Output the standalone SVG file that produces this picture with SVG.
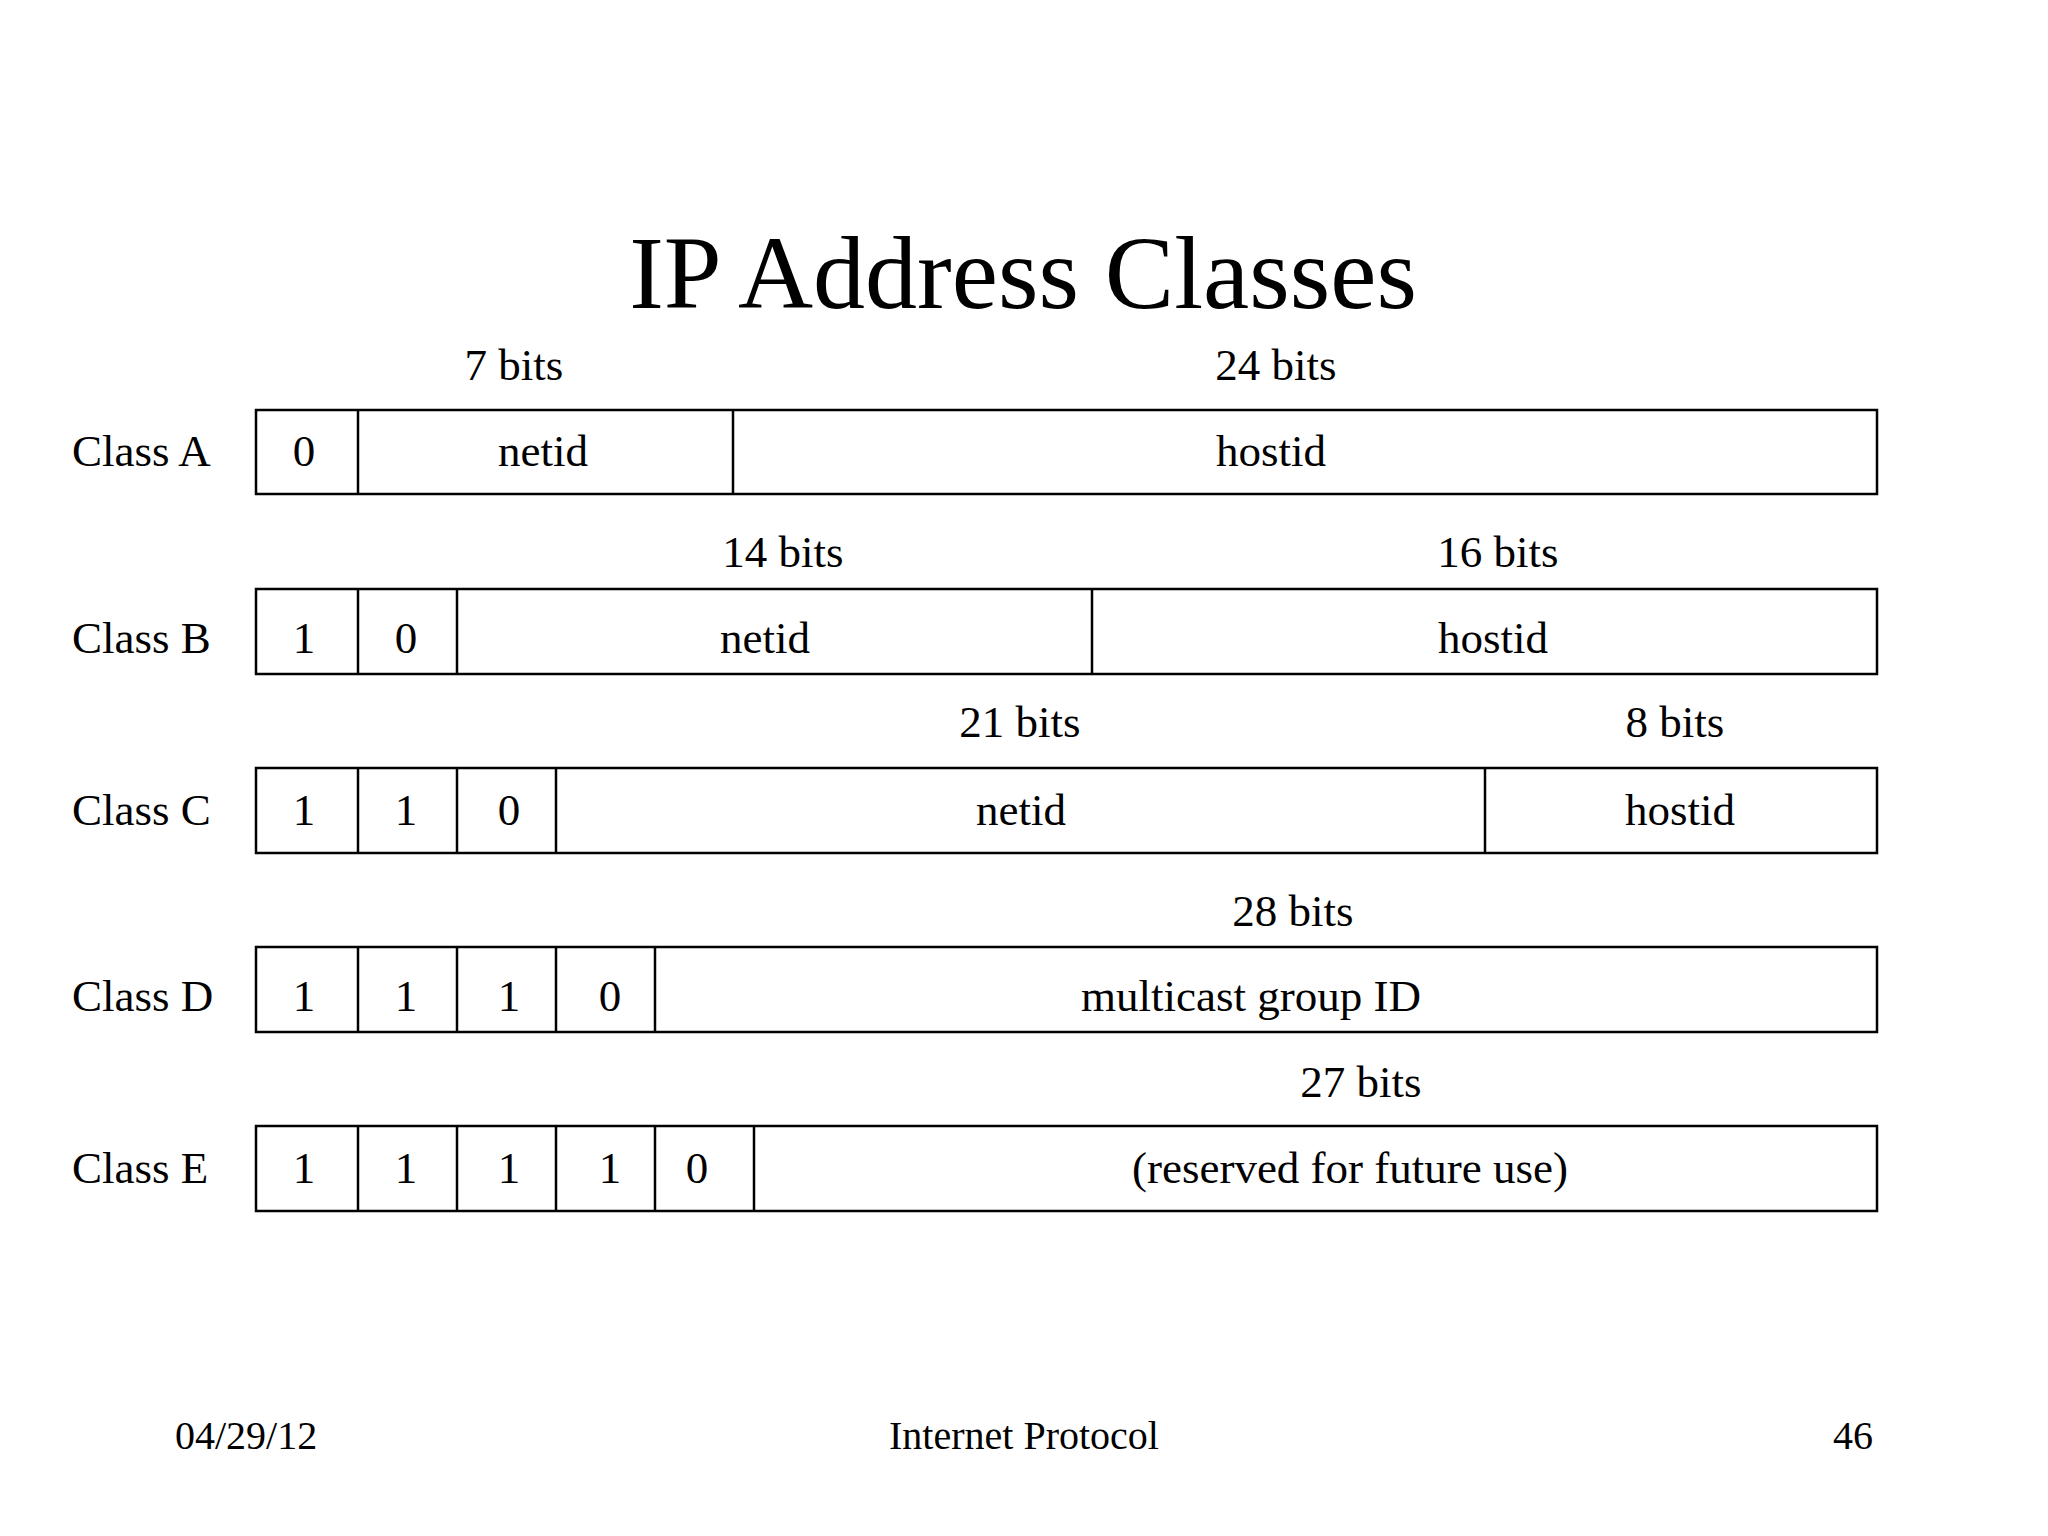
<svg xmlns="http://www.w3.org/2000/svg" width="2048" height="1536" viewBox="0 0 2048 1536">
<style>
text{font-family:"Liberation Serif","Times New Roman",serif;fill:#000}
.t{font-size:104px;text-anchor:middle}
.c{font-size:45px;text-anchor:middle}
.l{font-size:45px}
.b{font-size:45px;text-anchor:middle}
.f{font-size:40px}
.box{fill:#fff;stroke:#000;stroke-width:2.5}
.d{stroke:#000;stroke-width:2.5}
</style>
<rect width="2048" height="1536" fill="#fff"/>
<text class="t" x="1023" y="308">IP Address Classes</text>
<g id="classA">
<text class="b" x="514" y="380">7 bits</text>
<text class="b" x="1276" y="380">24 bits</text>
<text class="l" x="72" y="466">Class A</text>
<rect class="box" x="256" y="410" width="1621" height="84"/>
<line class="d" x1="358" y1="410" x2="358" y2="494"/>
<line class="d" x1="733" y1="410" x2="733" y2="494"/>
<text class="c" x="304" y="466">0</text>
<text class="c" x="543" y="466">netid</text>
<text class="c" x="1271" y="466">hostid</text>
</g>
<g id="classB">
<text class="b" x="783" y="567">14 bits</text>
<text class="b" x="1498" y="567">16 bits</text>
<text class="l" x="72" y="653">Class B</text>
<rect class="box" x="256" y="589" width="1621" height="85"/>
<line class="d" x1="358" y1="589" x2="358" y2="674"/>
<line class="d" x1="457" y1="589" x2="457" y2="674"/>
<line class="d" x1="1092" y1="589" x2="1092" y2="674"/>
<text class="c" x="304" y="653">1</text>
<text class="c" x="406" y="653">0</text>
<text class="c" x="765" y="653">netid</text>
<text class="c" x="1493" y="653">hostid</text>
</g>
<g id="classC">
<text class="b" x="1020" y="737">21 bits</text>
<text class="b" x="1675" y="737">8 bits</text>
<text class="l" x="72" y="825">Class C</text>
<rect class="box" x="256" y="768" width="1621" height="85"/>
<line class="d" x1="358" y1="768" x2="358" y2="853"/>
<line class="d" x1="457" y1="768" x2="457" y2="853"/>
<line class="d" x1="556" y1="768" x2="556" y2="853"/>
<line class="d" x1="1485" y1="768" x2="1485" y2="853"/>
<text class="c" x="304" y="825">1</text>
<text class="c" x="406" y="825">1</text>
<text class="c" x="509" y="825">0</text>
<text class="c" x="1021" y="825">netid</text>
<text class="c" x="1680" y="825">hostid</text>
</g>
<g id="classD">
<text class="b" x="1293" y="926">28 bits</text>
<text class="l" x="72" y="1011">Class D</text>
<rect class="box" x="256" y="947" width="1621" height="85"/>
<line class="d" x1="358" y1="947" x2="358" y2="1032"/>
<line class="d" x1="457" y1="947" x2="457" y2="1032"/>
<line class="d" x1="556" y1="947" x2="556" y2="1032"/>
<line class="d" x1="655" y1="947" x2="655" y2="1032"/>
<text class="c" x="304" y="1011">1</text>
<text class="c" x="406" y="1011">1</text>
<text class="c" x="509" y="1011">1</text>
<text class="c" x="610" y="1011">0</text>
<text class="c" x="1251" y="1011">multicast group ID</text>
</g>
<g id="classE">
<text class="b" x="1361" y="1097">27 bits</text>
<text class="l" x="72" y="1183">Class E</text>
<rect class="box" x="256" y="1126" width="1621" height="85"/>
<line class="d" x1="358" y1="1126" x2="358" y2="1211"/>
<line class="d" x1="457" y1="1126" x2="457" y2="1211"/>
<line class="d" x1="556" y1="1126" x2="556" y2="1211"/>
<line class="d" x1="655" y1="1126" x2="655" y2="1211"/>
<line class="d" x1="754" y1="1126" x2="754" y2="1211"/>
<text class="c" x="304" y="1183">1</text>
<text class="c" x="406" y="1183">1</text>
<text class="c" x="509" y="1183">1</text>
<text class="c" x="610" y="1183">1</text>
<text class="c" x="697" y="1183">0</text>
<text class="c" x="1350" y="1183">(reserved for future use)</text>
</g>
<g id="connectors"/>
<text class="f" x="175" y="1449">04/29/12</text>
<text class="f" x="1024" y="1449" text-anchor="middle">Internet Protocol</text>
<text class="f" x="1873" y="1449" text-anchor="end">46</text>
</svg>
